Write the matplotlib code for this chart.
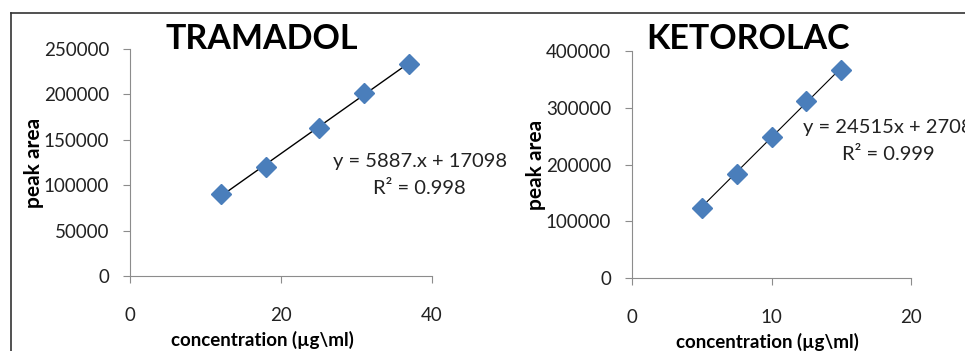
import matplotlib
matplotlib.use('Agg')
from matplotlib import pyplot as plt
from matplotlib.lines import Line2D
import numpy as np

plt.rcParams['font.family'] = ['Lato', 'DejaVu Sans']

tram_conc = [12, 18, 25, 31, 37]
tram_area = [90000, 120400, 162600, 201900, 233100]
tram_slope, tram_icept = 5887, 17098

keto_conc = [5, 7.5, 10, 12.5, 15]
keto_area = [124200, 183000, 247700, 311800, 366500]
keto_slope, keto_icept = 24515, 2708

blue = '#4a7ebb'
grey = '#8c8c8c'

fig = plt.figure(figsize=(9.65, 3.51), dpi=100)

# frame lines of the original figure panel
fig.add_artist(Line2D([11/965, 1], [1-13/351, 1-13/351], color='#333333', lw=1.2))
fig.add_artist(Line2D([11/965, 11/965], [0, 1-13/351], color='#333333', lw=1.2))

def panel(rect, x, y, slope, icept, xmax, xstep, ymax, ystep, title, lw, xlab_pos, title_x):
    ax = fig.add_axes(rect)
    xs = np.array([x[0], x[-1]])
    ax.plot(xs, slope*xs+icept, color='black', lw=lw, zorder=2)
    ax.plot(x, y, 'D', color=blue, ms=10, zorder=3)
    ax.set_xlim(0, xmax)
    ax.set_ylim(0, ymax)
    ax.set_xticks(np.arange(0, xmax+1, xstep))
    ax.set_yticks(np.arange(0, ymax+1, ystep))
    for s in ['top', 'right']:
        ax.spines[s].set_visible(False)
    for s in ['left', 'bottom']:
        ax.spines[s].set_color(grey)
    ax.tick_params(axis='x', colors=grey, labelcolor='#222222', labelsize=13.5,
                   direction='out', length=5, pad=17)
    ax.tick_params(axis='y', colors=grey, labelcolor='#222222', labelsize=13.5,
                   direction='out', length=5, pad=10)
    ax.set_xlabel('concentration (µg\\ml)', fontsize=13.5, fontweight='bold')
    ax.xaxis.set_label_coords(xlab_pos, -0.24)
    ax.set_ylabel('peak area', fontsize=15, fontweight='bold', labelpad=0)
    fig.text(title_x/965, 1-39/351, title, fontsize=24.5, fontweight='bold',
             ha='center', va='center')
    return ax

panel([130/965, 1-276/351, 302/965, 227/351], tram_conc, tram_area,
      tram_slope, tram_icept, 40, 20, 250000, 50000, 'TRAMADOL', 1.0, 0.437, 262)
panel([632/965, 1-278/351, 279/965, 227/351], keto_conc, keto_area,
      keto_slope, keto_icept, 20, 10, 400000, 100000, 'KETOROLAC', 0.8, 0.485, 748)

fig.text(333/965, 1-161/351, 'y = 5887.x + 17098', fontsize=14.5, color='#222222', va='center')
fig.text(373/965, 1-188/351, 'R² = 0.998', fontsize=14.5, color='#222222', va='center')
fig.text(803/965, 1-128/351, 'y = 24515x + 2708', fontsize=14.5, color='#222222', va='center')
fig.text(842/965, 1-155/351, 'R² = 0.999', fontsize=14.5, color='#222222', va='center')

fig.savefig('out.png', dpi=100)
